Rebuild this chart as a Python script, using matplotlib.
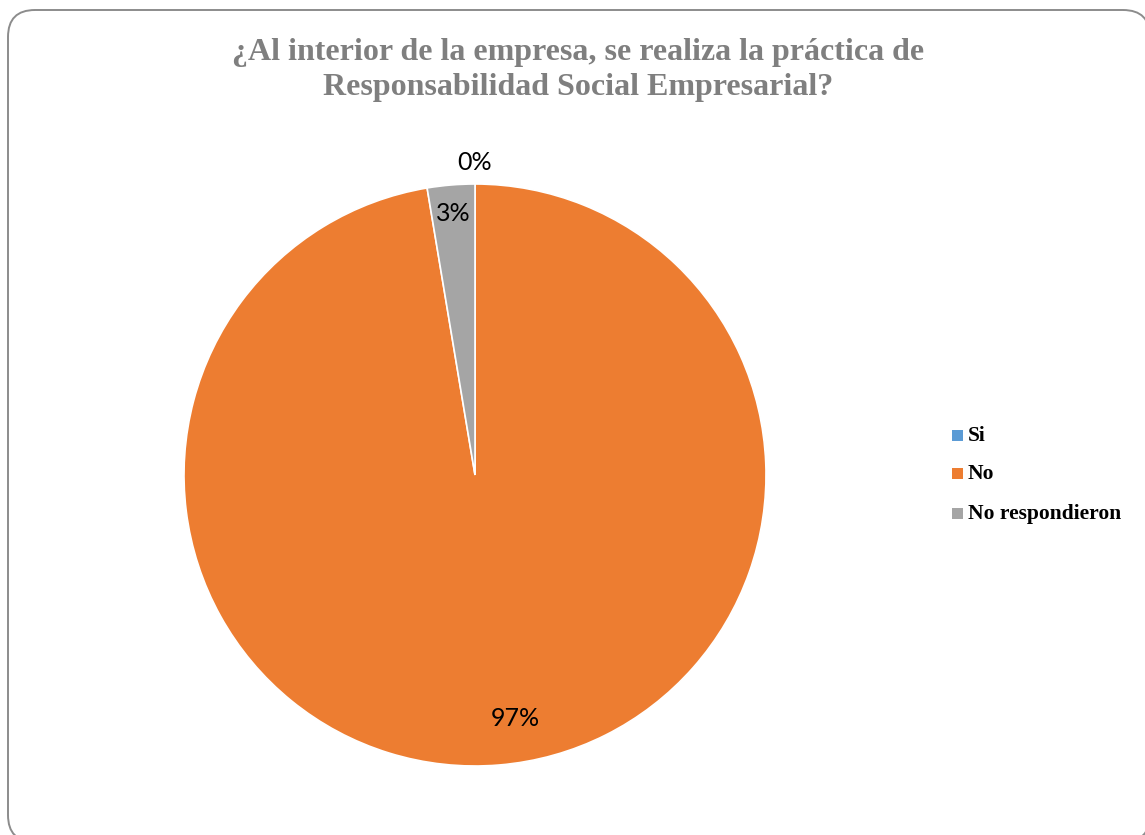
import matplotlib.pyplot as plt
import numpy as np
from matplotlib.patches import FancyBboxPatch

# data
categories = ['Si', 'No', 'No respondieron']
values = [0, 37, 1]
pct_labels = ['0%', '97%', '3%']
colors = ['#5B9BD5', '#ED7D31', '#A5A5A5']

W, H = 1145, 835
fig = plt.figure(figsize=(W / 100, H / 100), dpi=100)
ax = fig.add_axes([0, 0, 1, 1])
ax.set_xlim(0, W)
ax.set_ylim(0, H)
ax.set_aspect('equal')
ax.axis('off')

# rounded frame
frame = FancyBboxPatch((8, -7), 1142, H - 10 + 7, boxstyle='round,pad=0,rounding_size=27',
                       fc='white', ec='#8c8c8c', lw=1.4, zorder=0)
ax.add_patch(frame)

cx, cy, r = 475, H - 475, 291
wedges, _ = ax.pie(values, colors=colors, startangle=90, counterclock=False,
                   center=(cx, cy), radius=r, frame=True,
                   wedgeprops=dict(edgecolor='white', linewidth=1.2))
ax.set_xlim(0, W)
ax.set_ylim(0, H)
ax.axis('off')

# percentage labels
dists = [1.075, 0.84, 0.9]
shifts = [0, 20, 0]
for w, lab, d, s in zip(wedges, pct_labels, dists, shifts):
    th = np.deg2rad((w.theta1 + w.theta2) / 2)
    ax.text(cx + d * r * np.cos(th) + s, cy + d * r * np.sin(th), lab,
            ha='center', va='center', fontsize=18, family='Lato', color='black')

# title
ax.text(578, H - 70, '¿Al interior de la empresa, se realiza la práctica de\nResponsabilidad Social Empresarial?',
        ha='center', va='center', fontsize=23, fontweight='bold', family='Liberation Serif',
        color='#7f7f7f', linespacing=1.25)

# legend
leg_y = [436, 474, 514]
for lab, col, y in zip(categories, colors, leg_y):
    ax.add_patch(plt.Rectangle((952, H - y - 5), 11, 11, fc=col, ec='none'))
    ax.text(968, H - y, lab, ha='left', va='center', fontsize=15.5, fontweight='bold',
            family='Liberation Serif', color='black')

fig.savefig('out.png', dpi=100)
